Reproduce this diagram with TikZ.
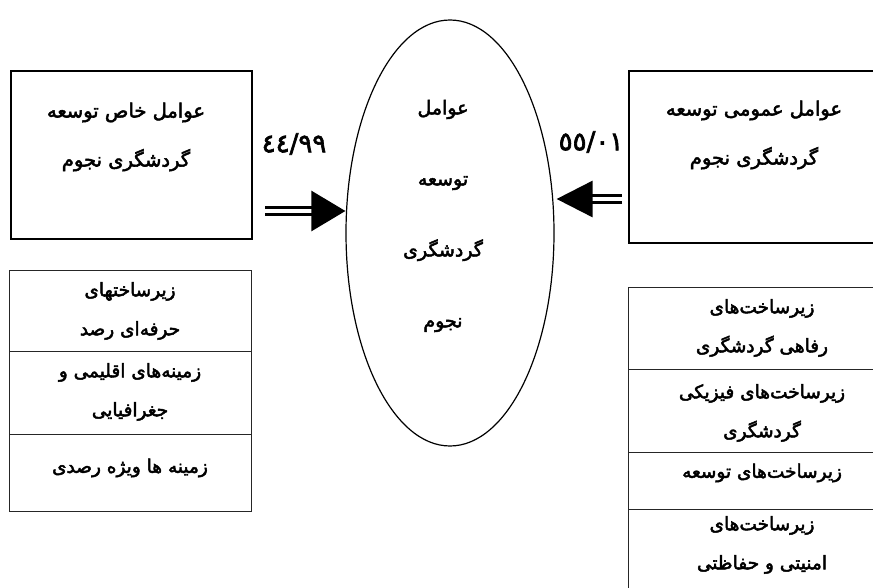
\documentclass[tikz,border=0pt]{standalone}
\usepackage{fontspec}
\usetikzlibrary{shapes.geometric,arrows.meta}
\TeXXeTstate=1
\newfontfamily\arfont[Script=Arabic,FakeBold=2.5]{DejaVu Sans}
\tikzset{
  frame/.style={draw=black, line width=1.6pt, inner sep=0pt},
  cell/.style={draw=black!85, line width=0.8pt, inner sep=0pt, minimum width=242pt},
  rcell/.style={draw=black!85, line width=0.8pt, inner sep=0pt, minimum width=272pt},
  txt/.style={font={\arfont\fontsize{19.5}{49}\selectfont}, align=center, inner sep=0pt},
  ttxt/.style={font={\arfont\fontsize{18.5}{39}\selectfont}, align=center, inner sep=0pt},
  etxt/.style={font={\arfont\fontsize{19}{71}\selectfont}, align=center, inner sep=0pt},
  num/.style={font={\arfont\fontsize{26}{28}\selectfont}, inner sep=0pt},
  dblarrow/.style={draw=black, line width=2.8pt, double=white, double distance=4.5pt}
}
\begin{document}
\begin{tikzpicture}[x=1pt,y=-1pt]
\useasboundingbox (0,0) rectangle (873,588);
\clip (0,0) rectangle (873,588);
% top boxes
\node[frame, minimum width=241pt, minimum height=168pt] (LB) at (131.5,155) {};
\node[txt] (LBt) at (126,137) {\beginR عوامل خاص توسعه\endR\\\beginR گردشگری نجوم\endR};
\node[frame, minimum width=271pt, minimum height=172pt] (RB) at (764.5,157) {};
\node[txt] (RBt) at (754,135) {\beginR عوامل عمومی توسعه\endR\\\beginR گردشگری نجوم\endR};
% ellipse
\node[ellipse, draw=black, line width=1.2pt, minimum width=208pt, minimum height=426pt, inner sep=0pt] (E) at (450,233) {};
\node[etxt] (Et) at (443,216) {\beginR عوامل\endR\\\beginR توسعه\endR\\\beginR گردشگری\endR\\\beginR نجوم\endR};
% arrows
\coordinate (tailL) at (265,211);
\coordinate (tailR) at (622,199);
\draw[dblarrow, -{Triangle[length=34pt,width=40pt]}] (tailL) -- (E.west |- tailL);
\draw[dblarrow, -{Triangle[length=36pt,width=36pt]}] (tailR) -- ([xshift=2pt]E.east |- tailR);
\node[num] (nL) at (294,144) {٤٤/٩٩};
\node[num] (nR) at (591,142) {٥٥/٠١};
% left table
\node[cell, minimum height=81pt] (L1) at (130,310.5) {};
\node[cell, minimum height=83pt] (L2) at (130,392.5) {};
\node[cell, minimum height=77pt] (L3) at (130,472.5) {};
\node[ttxt] (L1t) at (130,311) {\beginR زیرساختهای\endR\\\beginR حرفه‌ای رصد\endR};
\node[ttxt] (L2t) at (130,392) {\beginR زمینه‌های اقلیمی و\endR\\\beginR جغرافیایی\endR};
\node[ttxt] (L3t) at (130,468) {\beginR زمینه ها ویژه رصدی\endR};
% right table
\node[rcell, minimum height=82pt] (R1) at (764,328) {};
\node[rcell, minimum height=83pt] (R2) at (764,410.5) {};
\node[rcell, minimum height=57pt] (R3) at (764,480.5) {};
\node[rcell, minimum height=91pt] (R4) at (764,554.5) {};
\node[ttxt] (R1t) at (762,328) {\beginR زیرساخت‌های\endR\\\beginR رفاهی گردشگری\endR};
\node[ttxt] (R2t) at (762,413) {\beginR زیرساخت‌های فیزیکی\endR\\\beginR گردشگری\endR};
\node[ttxt] (R3t) at (762,473) {\beginR زیرساخت‌های توسعه\endR};
\node[ttxt] (R4t) at (762,545) {\beginR زیرساخت‌های\endR\\\beginR امنیتی و حفاظتی\endR};
\end{tikzpicture}
\end{document}
